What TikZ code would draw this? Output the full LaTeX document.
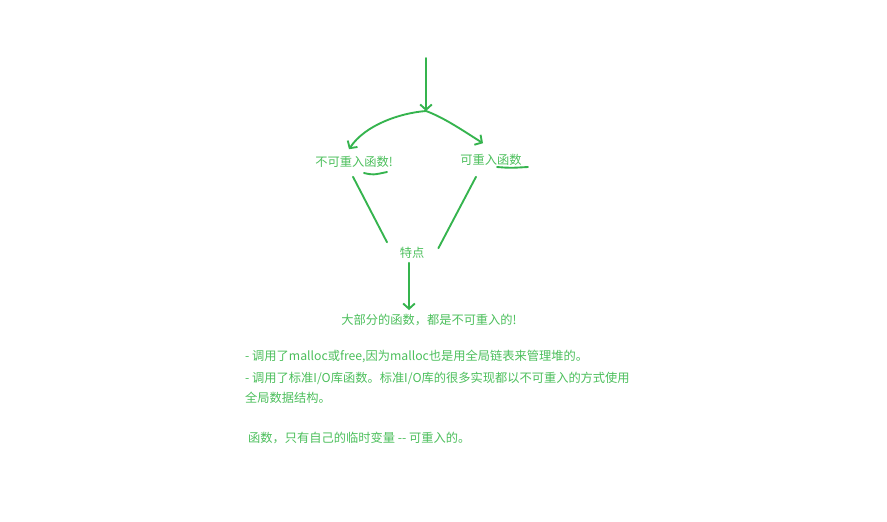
\documentclass[tikz,border=0pt]{standalone}
\usepackage{fontspec}
\setmainfont{Noto Sans CJK SC}
\usepackage{tikz}
\usetikzlibrary{arrows,arrows.meta}
\definecolor{inkgreen}{HTML}{35B44E}
\definecolor{textgreen}{HTML}{4CBF5C}

\begin{document}
\begin{tikzpicture}[x=0.03cm,y=-0.03cm,
    >={Straight Barb[length=4.5pt,width=10pt]},
    every node/.style={text=textgreen,font=\fontsize{10.45}{12.5}\selectfont},
    pen/.style={inkgreen,line width=1.6pt,line cap=round},
    note/.style={anchor=west,inner sep=0pt}]
    \useasboundingbox[fill=white] (0,0) rectangle (887,521);

    \coordinate (start) at (426,58);
    \coordinate (fork) at (426,111);
    \node (nonre) at (354,162) {不可重入函数!};
    \node (re) at (491,160) {可重入函数};
    \node (feat) at (412,253) {特点};
    \node (most) at (429,320) {大部分的函数，都是不可重入的!};

    \node[note] (line1) at (245,356) {- 调用了malloc或free,因为malloc也是用全局链表来管理堆的。};
    \node[note] (line2) at (245,378) {- 调用了标准I/O库函数。标准I/O库的很多实现都以不可重入的方式使用};
    \node[note] (line3) at (245,398) {全局数据结构。};
    \node[note] (line4) at (248,438) {函数，只有自己的临时变量 {-}{-} 可重入的。};

    \draw[pen, ->] (start) -- (fork);
    \draw[pen, ->] (fork) .. controls (400,113) and (365,125) .. ([xshift=-0.15cm,yshift=0.09cm]nonre.north);
    \draw[pen, ->] (fork) .. controls (445,118) and (465,132) .. ([xshift=-0.24cm,yshift=0.21cm]re.north);

    \draw[pen] ([xshift=-0.03cm,yshift=-0.15cm]nonre.south) -- ([xshift=-0.75cm,yshift=0.03cm]feat.north);
    \draw[pen] ([xshift=-0.45cm,yshift=-0.21cm]re.south) -- ([xshift=0.3cm,yshift=-0.15cm]feat.north east);
    \draw[pen, ->] ([xshift=-0.09cm]feat.south) -- ([xshift=-0.6cm]most.north);

    \draw[pen] (364,173) .. controls (373,175) .. (387,172);
    \draw[pen] (497,167) .. controls (510,168) .. (528,167);
\end{tikzpicture}
\end{document}
